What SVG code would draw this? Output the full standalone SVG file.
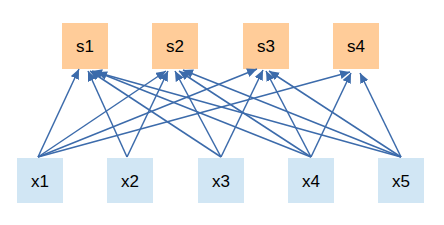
<svg xmlns="http://www.w3.org/2000/svg" width="444" height="225" viewBox="0 0 444 225">
<style>
.s rect{fill:#FFCC99}
.x rect{fill:#D1E6F4}
text{font-family:"Liberation Sans",Arial,sans-serif;font-size:17px;fill:#000;text-anchor:middle}
.e line{stroke:#3C6BAB;stroke-width:1.5;marker-end:url(#ah)}
</style>
<defs>
<marker id="ah" markerUnits="userSpaceOnUse" markerWidth="11" markerHeight="9" refX="10" refY="4.5" orient="auto">
<path d="M0,0 L10,4.5 L0,9 z" fill="#3C6BAB"/>
</marker>
</defs>
<rect width="444" height="225" fill="#fff"/>
<g id="s1" class="s"><rect x="62" y="23" width="46" height="46"/><text x="85" y="52">s1</text></g>
<g id="s2" class="s"><rect x="152" y="23" width="46" height="46"/><text x="175" y="52">s2</text></g>
<g id="s3" class="s"><rect x="243" y="23" width="46" height="46"/><text x="266" y="52">s3</text></g>
<g id="s4" class="s"><rect x="333" y="23" width="46" height="46"/><text x="356" y="52">s4</text></g>
<g id="x1" class="x"><rect x="17" y="158" width="46" height="45"/><text x="40" y="187">x1</text></g>
<g id="x2" class="x"><rect x="107" y="158" width="46" height="45"/><text x="130" y="187">x2</text></g>
<g id="x3" class="x"><rect x="198" y="158" width="46" height="45"/><text x="221" y="187">x3</text></g>
<g id="x4" class="x"><rect x="288" y="158" width="46" height="45"/><text x="311" y="187">x4</text></g>
<g id="x5" class="x"><rect x="378" y="158" width="46" height="45"/><text x="401" y="187">x5</text></g>
<g id="connectors" class="e">
<line x1="38" y1="157" x2="79" y2="69"/>
<line x1="38" y1="157" x2="166" y2="71"/>
<line x1="38" y1="157" x2="257" y2="69"/>
<line x1="38" y1="157" x2="350" y2="72"/>
<line x1="127" y1="157" x2="88" y2="71"/>
<line x1="127" y1="157" x2="168" y2="71"/>
<line x1="221" y1="157" x2="90" y2="71"/>
<line x1="221" y1="157" x2="175" y2="71"/>
<line x1="221" y1="157" x2="263" y2="70"/>
<line x1="311" y1="157" x2="97" y2="72"/>
<line x1="311" y1="157" x2="179" y2="71"/>
<line x1="311" y1="157" x2="266" y2="71"/>
<line x1="311" y1="157" x2="351" y2="73"/>
<line x1="401" y1="157" x2="92" y2="71"/>
<line x1="401" y1="157" x2="183" y2="70"/>
<line x1="401" y1="157" x2="269" y2="71"/>
<line x1="401" y1="157" x2="360" y2="73"/>
</g>
</svg>
